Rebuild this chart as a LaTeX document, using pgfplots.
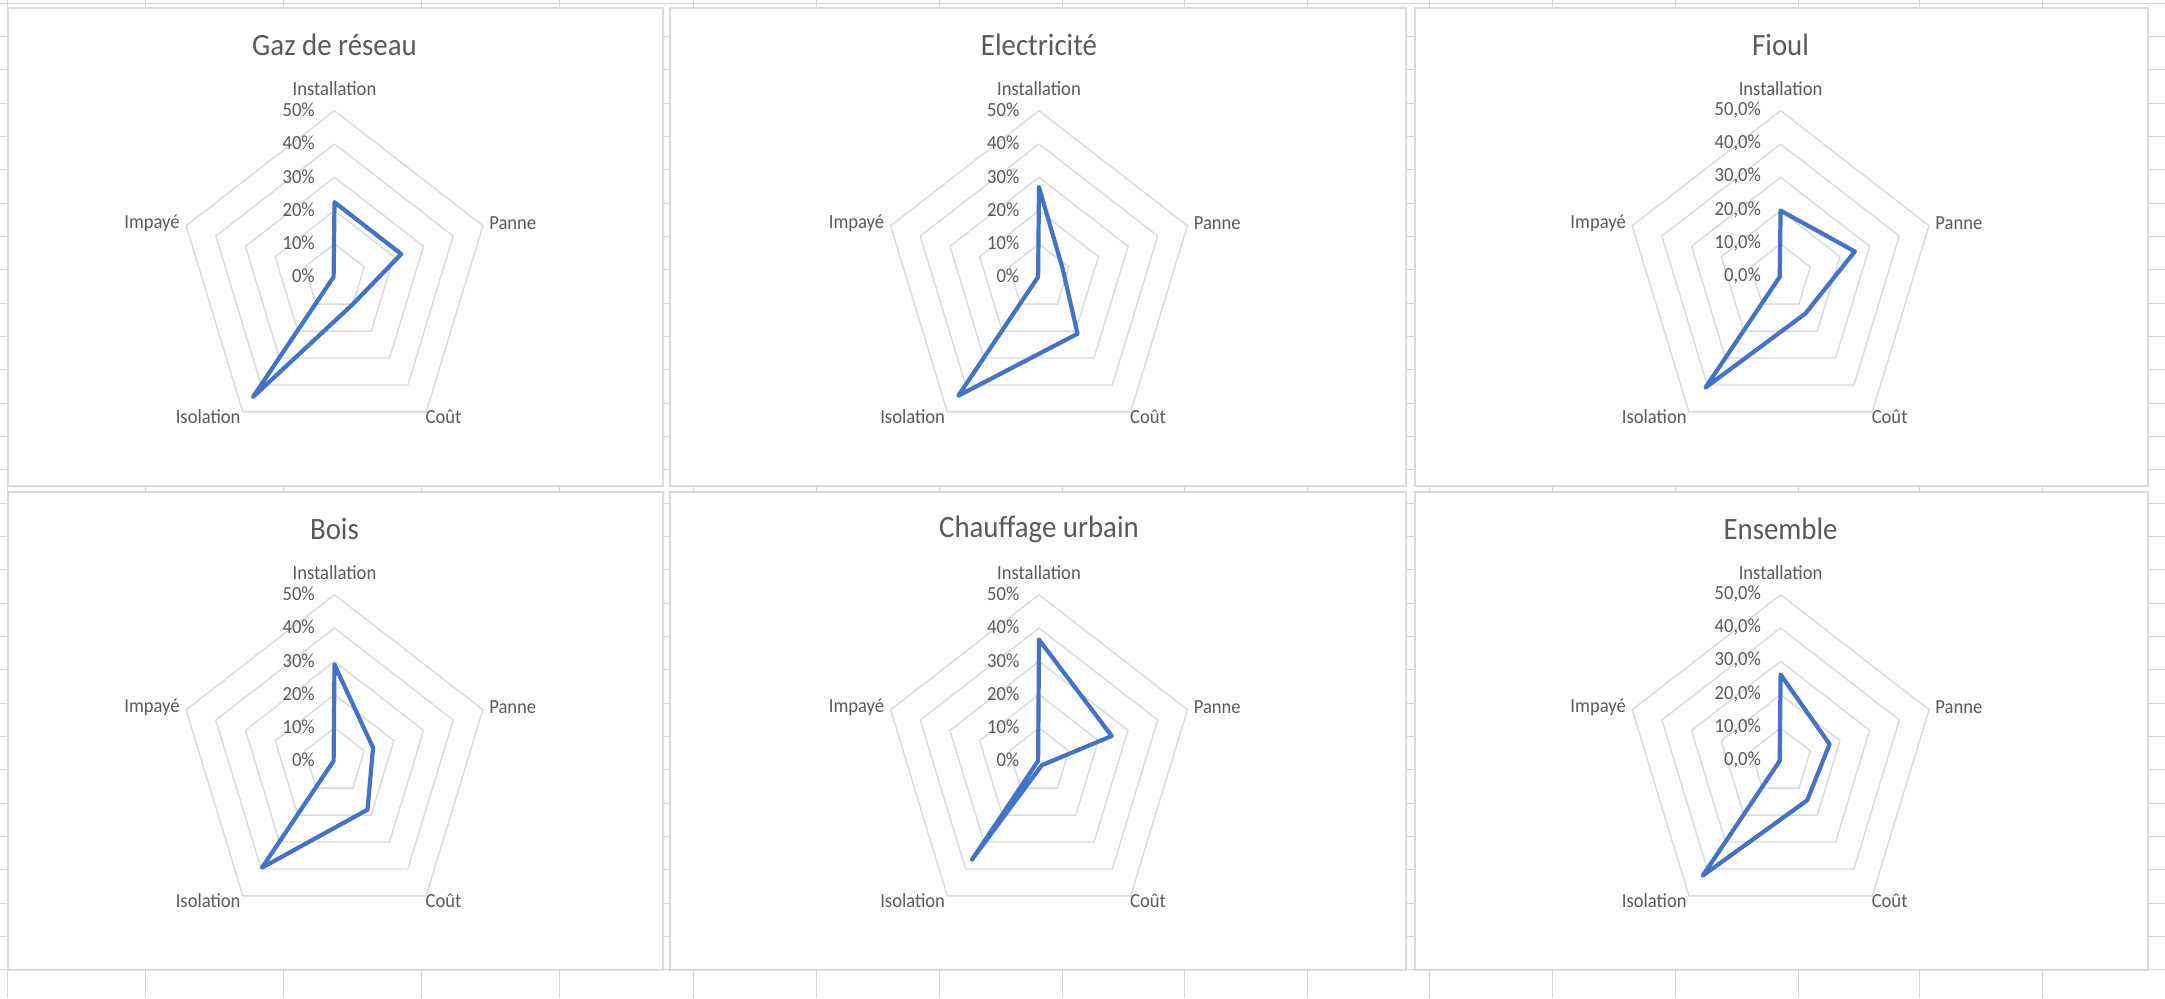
\documentclass[border=0pt]{standalone}
\usepackage{pgfplots}
\pgfplotsset{compat=1.18}
\usepackage{fontspec}
\setmainfont{Carlito}
\definecolor{txt}{HTML}{595959}
\definecolor{ring}{HTML}{D9D9D9}
\definecolor{serie}{HTML}{4472C4}
\definecolor{cell}{HTML}{D4D4D4}
\definecolor{frame}{HTML}{D9D9D9}

\tikzset{
  lab/.style={font=\fontsize{10}{12}\selectfont, text=txt, xscale=0.93, inner sep=0pt},
  ttl/.style={font=\fontsize{15.5}{18}\selectfont, text=txt, xscale=0.93, inner sep=0pt},
}

% one pentagonal grid ring at value #1
\newcommand{\ringplot}[1]{%
  \addplot[ring, line width=0.7pt, data cs=polar] coordinates {(90,#1) (18,#1) (-54,#1) (-126,#1) (162,#1) (90,#1)};}

% #1 centre (pt), #2 title, #3 tick suffix, #4 polar data
\newcommand{\radar}[4]{%
\begin{axis}[at={(#1)}, anchor=center, scale only axis,
  width=187.2pt, height=199.8pt,
  xmin=-60, xmax=60, ymin=-60, ymax=60,
  hide axis, clip=false]
  \ringplot{10}\ringplot{20}\ringplot{30}\ringplot{40}\ringplot{50}
  \addplot[serie, line width=2.1pt, line join=round, line cap=round, data cs=polar] coordinates {#4};
  \node[ttl] at (axis cs:0,69.7) {#2};
  \node[lab] at (axis cs:0,56.5) {Installation};
  \node[lab, anchor=west] at (axis cs:49.5,16.2) {Panne};
  \node[lab, anchor=east] at (axis cs:-49.5,16.2) {Impayé};
  \node[lab, anchor=west] at (axis cs:29.1,-42) {Coût};
  \node[lab, anchor=east] at (axis cs:-30,-42) {Isolation};
  \node[lab, anchor=east] at (axis cs:-6.2,0.3) {0#3};
  \node[lab, anchor=east] at (axis cs:-6.2,10.3) {10#3};
  \node[lab, anchor=east] at (axis cs:-6.2,20.3) {20#3};
  \node[lab, anchor=east] at (axis cs:-6.2,30.3) {30#3};
  \node[lab, anchor=east] at (axis cs:-6.2,40.3) {40#3};
  \node[lab, anchor=east] at (axis cs:-6.2,50.3) {50#3};
\end{axis}}

\begin{document}
\begin{tikzpicture}
\begin{scope}[x=0.5pt, y=-0.5pt]
  \useasboundingbox (0,0) rectangle (2165,998);
  \fill[white] (0,0) rectangle (2165,998);
  % spreadsheet cells behind the charts
  \foreach \x in {7,145,283,421,559,693.5,816,939,1062,1184,1307,1429,1552,1675,1798,1919,2042}
    \draw[cell, line width=0.5pt] (\x,0) -- (\x,998);
  \foreach \k in {0,...,29}
    \draw[cell, line width=0.5pt] (0,{3.3+33.333*\k}) -- (2165,{3.3+33.333*\k});
  % chart areas
  \filldraw[fill=white, draw=frame, line width=0.6pt] (8,8) rectangle (663,486);
  \filldraw[fill=white, draw=frame, line width=0.6pt] (670,8) rectangle (1406,486);
  \filldraw[fill=white, draw=frame, line width=0.6pt] (1415,8) rectangle (2148,486);
  \filldraw[fill=white, draw=frame, line width=0.6pt] (8,492) rectangle (663,970);
  \filldraw[fill=white, draw=frame, line width=0.6pt] (670,492) rectangle (1406,970);
  \filldraw[fill=white, draw=frame, line width=0.6pt] (1415,492) rectangle (2148,970);
\end{scope}

\radar{167.25pt,-138.6pt}{Gaz de réseau}{\%}{(90,22.5) (18,22.5) (-54,10) (-126,44.5) (162,0.3) (90,22.5)}
\radar{519.5pt,-138.6pt}{Electricité}{\%}{(90,27) (18,8) (-54,21) (-126,44) (162,0.3) (90,27)}
\radar{890.3pt,-138.6pt}{Fioul}{,0\%}{(90,20) (18,25) (-54,13.5) (-126,41) (162,0.3) (90,20)}
\radar{167.25pt,-380.6pt}{Bois}{\%}{(90,29) (18,13) (-54,18) (-126,39.5) (162,0.3) (90,29)}
\radar{519.5pt,-380.6pt}{Chauffage urbain}{\%}{(90,36.5) (18,24.5) (-54,1.5) (-126,36.5) (162,0.3) (90,36.5)}
\radar{890.3pt,-380.6pt}{Ensemble}{,0\%}{(90,26) (18,16.5) (-54,14.5) (-126,42.5) (162,0.3) (90,26)}
\end{tikzpicture}
\end{document}
